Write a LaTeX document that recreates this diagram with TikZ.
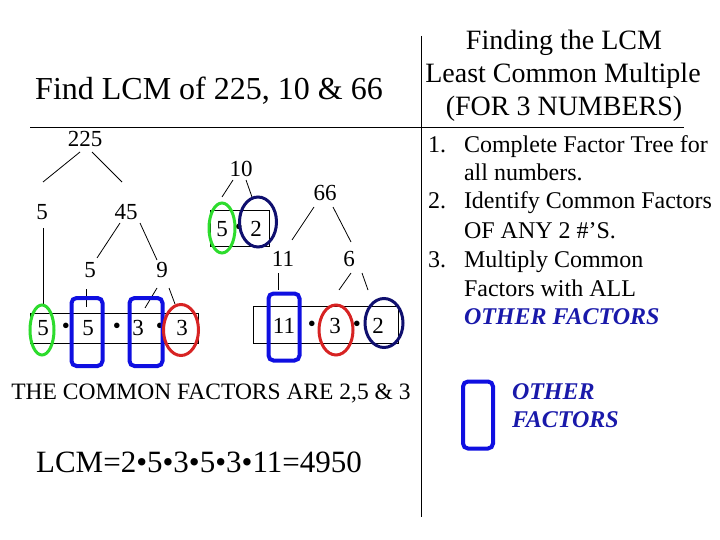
\documentclass[tikz,border=0pt]{standalone}
\usepackage{fontspec}
\setmainfont{Liberation Serif}
\usetikzlibrary{shapes.geometric}
\definecolor{gr}{RGB}{45,220,45}
\definecolor{nv}{RGB}{15,15,110}
\definecolor{rd}{RGB}{215,35,35}
\definecolor{bl}{RGB}{15,15,225}
\definecolor{tb}{RGB}{25,25,170}
\begin{document}
\begin{tikzpicture}[x=1pt,y=-1pt,
  every node/.style={inner sep=0pt,outer sep=0pt},
  num/.style={font=\fontsize{23}{23}\selectfont},
  conn/.style={line width=0.8pt},
  factbox/.style={draw,line width=0.8pt},
  gring/.style={draw=gr,line width=3pt,ellipse},
  nring/.style={draw=nv,line width=3pt,ellipse},
  rring/.style={draw=rd,line width=3pt,ellipse},
  brect/.style={draw=bl,line width=4pt,rectangle,rounded corners=5pt},
  list/.style={font=\fontsize{24}{24}\selectfont,anchor=base west},
  other/.style={font=\fontsize{24}{24}\selectfont\bfseries\itshape,text=tb,anchor=base west},
  head/.style={font=\fontsize{28}{28}\selectfont,anchor=base}]
\useasboundingbox (0,0) rectangle (720,540);
% frame lines
\coordinate (hl) at (30,127); \coordinate (hr) at (684,127);
\coordinate (vt) at (421,36); \coordinate (vb) at (421,517);
\draw[line width=0.8pt] (hl) -- (hr);
\draw[line width=0.8pt] (vt) -- (vb);
% titles
\node[font=\fontsize{32}{32}\selectfont,anchor=base] (title) at (209,100) {Find LCM of 225, 10 \& 66};
\node[head] (h1) at (564,50) {Finding the LCM};
\node[head] (h2) at (563,83) {Least Common Multiple};
\node[head] (h3) at (564,116) {(FOR 3 NUMBERS)};
% list
\node[list] (n1) at (428,153) {1.};
\node[list] (l1) at (464,153) {Complete Factor Tree for};
\node[list] (l1b) at (464,181) {all numbers.};
\node[list] (n2) at (428,209) {2.};
\node[list] (l2) at (464,209) {Identify Common Factors};
\node[list] (l2b) at (464,238) {OF ANY 2 \#’S.};
\node[list] (n3) at (428,267) {3.};
\node[list] (l3) at (464,267) {Multiply Common};
\node[list] (l3b) at (464,296) {Factors with ALL};
\node[other] (l3c) at (464,324) {OTHER FACTORS};
% tree 225
\node[num] (t225) at (85,139) {225};
\node[num] (a5) at (42,212) {5};
\node[num] (a45) at (126,212) {45};
\node[num] (b5) at (90,270) {5};
\node[num] (b9) at (162,270) {9};
\coordinate (c1a) at (80,152); \coordinate (c1b) at (43,182);
\coordinate (c2a) at (92,152); \coordinate (c2b) at (122,182);
\coordinate (c3a) at (43,228); \coordinate (c3b) at (43,306);
\coordinate (c4a) at (120,223); \coordinate (c4b) at (97,258);
\coordinate (c5a) at (140,223); \coordinate (c5b) at (157,260);
\coordinate (c6a) at (86,289); \coordinate (c6b) at (86,307);
\coordinate (c7a) at (157,288); \coordinate (c7b) at (145,308);
\coordinate (c8a) at (169,288); \coordinate (c8b) at (175,304);
\foreach \p in {1,...,8} \draw[conn] (c\p a) -- (c\p b);
\node[factbox,minimum width=168,minimum height=30] (boxA) at (114,328) {};
\node[num] (f1) at (43,328) {5};
\node[num] (d1) at (66,328) {•};
\node[num] (f2) at (88,328) {5};
\node[num] (d2) at (117,328) {•};
\node[num] (f3) at (138,328) {3};
\node[num] (d3) at (160,328) {•};
\node[num] (f4) at (182,328) {3};
\node[gring,minimum width=24,minimum height=50] (g1) at (42,330) {};
\node[brect,minimum width=31,minimum height=68] (r1) at (87,332) {};
\node[brect,minimum width=33,minimum height=68] (r2) at (146,332) {};
\node[rring,minimum width=35,minimum height=51] (e1) at (181,330) {};
% tree 10
\node[num] (t10) at (241,169) {10};
\coordinate (d1a) at (233,180); \coordinate (d1b) at (222,197);
\coordinate (d2a) at (246,180); \coordinate (d2b) at (252,197);
\draw[conn] (d1a) -- (d1b);
\draw[conn] (d2a) -- (d2b);
\node[factbox,minimum width=59,minimum height=36] (boxB) at (240,228) {};
\node[num] (g5) at (222,229) {5};
\node[num] (gd) at (239,229) {•};
\node[num] (g2) at (256,229) {2};
\node[gring,minimum width=26,minimum height=50] (g2r) at (222,228) {};
\node[nring,minimum width=37,minimum height=50] (n2r) at (258,222) {};
% tree 66
\node[num] (t66) at (325,193) {66};
\node[num] (h11) at (283,259) {11};
\node[num] (h6) at (349,259) {6};
\coordinate (e1a) at (314,207); \coordinate (e1b) at (292,240);
\coordinate (e2a) at (333,207); \coordinate (e2b) at (351,242);
\coordinate (e3a) at (278,273); \coordinate (e3b) at (278,290);
\coordinate (e4a) at (351,273); \coordinate (e4b) at (339,290);
\coordinate (e5a) at (362,273); \coordinate (e5b) at (368,290);
\foreach \p in {1,...,5} \draw[conn] (e\p a) -- (e\p b);
\node[factbox,minimum width=145,minimum height=37] (boxC) at (326,325) {};
\node[num] (k11) at (284,326) {11};
\node[num] (kd1) at (312,326) {•};
\node[num] (k3) at (335,326) {3};
\node[num] (kd2) at (357,326) {•};
\node[num] (k2) at (378,326) {2};
\node[brect,minimum width=31,minimum height=67] (r3) at (284,327) {};
\node[rring,minimum width=34,minimum height=50] (e3r) at (336,330) {};
\node[nring,minimum width=38,minimum height=49] (n3r) at (384,323) {};
% bottom texts
\node[font=\fontsize{23.5}{23.5}\selectfont,anchor=base] (common) at (211,399) {THE COMMON FACTORS ARE 2,5 \& 3};
\node[font=\fontsize{31}{31}\selectfont,anchor=base] (lcm) at (199,472) {LCM=2•5•3•5•3•11=4950};
% legend
\node[brect,minimum width=30,minimum height=67] (leg) at (478,415) {};
\node[other] (o1) at (512,399) {OTHER};
\node[other] (o2) at (512,427) {FACTORS};
\end{tikzpicture}
\end{document}
